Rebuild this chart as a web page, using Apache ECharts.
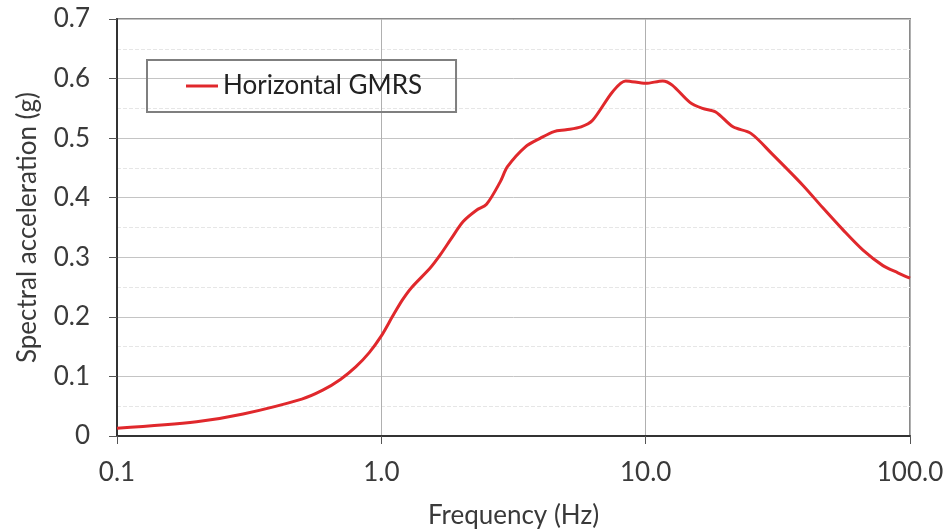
<!DOCTYPE html>
<html>
<head>
<meta charset="utf-8">
<script src="https://cdn.jsdelivr.net/npm/echarts@6/dist/echarts.min.js"></script>
<style>
  html, body { margin: 0; padding: 0; background: #fff; }
  #chart { width: 947px; height: 529px; }
</style>
</head>
<body>
<div id="chart"></div>
<script>
// frequency (Hz) and spectral acceleration (g)
const freq = [0.1, 0.2, 0.3, 0.5, 0.6, 0.7, 0.8, 0.9, 1.0, 1.1, 1.2, 1.3, 1.53, 1.67, 1.83,
  2.04, 2.29, 2.5, 2.82, 3.0, 3.5, 4.0, 4.5, 5.0, 5.7, 6.3, 7.5, 8.4, 10, 11.6, 12.6,
  14.7, 16.4, 18.4, 21.4, 25, 30, 39.3, 46.8, 55.8, 66.4, 79, 90, 100];
const accel = [0.013, 0.024, 0.037, 0.062, 0.077, 0.095, 0.116, 0.140, 0.168, 0.200, 0.228, 0.249, 0.282, 0.304, 0.330,
  0.360, 0.379, 0.389, 0.427, 0.452, 0.485, 0.500, 0.511, 0.514, 0.519, 0.530, 0.578, 0.596, 0.592, 0.596, 0.589,
  0.560, 0.550, 0.544, 0.519, 0.508, 0.474, 0.421, 0.383, 0.346, 0.312, 0.286, 0.274, 0.265];
const seriesName = 'Horizontal GMRS';

const font = 'Lato';
const textColor = '#3a3a3a';

const chart = echarts.init(document.getElementById('chart'));
chart.setOption({
  animation: false,
  backgroundColor: '#fff',
  textStyle: { fontFamily: font },
  grid: {
    left: 117, right: 37, top: 19, bottom: 93,
    outerBoundsMode: 'none',
    show: true, borderColor: '#8a8a8a', borderWidth: 2
  },
  legend: {
    left: 147, top: 60,
    data: [seriesName],
    icon: 'rect',
    itemWidth: 32, itemHeight: 3,
    padding: [13, 34, 13, 39],
    borderColor: '#7f7f7f', borderWidth: 2,
    textStyle: { fontFamily: font, fontSize: 26, color: '#222' }
  },
  xAxis: {
    type: 'log',
    logBase: 10,
    min: 0.1, max: 100,
    name: 'Frequency (Hz)',
    nameLocation: 'middle',
    nameGap: 67,
    nameTextStyle: { fontFamily: font, fontSize: 26, color: textColor },
    axisLine: { onZero: false, lineStyle: { color: '#333', width: 2 } },
    axisTick: { show: true, length: 8, lineStyle: { color: '#555' } },
    axisLabel: {
      margin: 24, fontSize: 26, color: textColor,
      formatter: v => Number(v).toFixed(1)
    },
    splitLine: { show: true, lineStyle: { color: '#b0b0b0', width: 1 } },
    minorTick: { show: false },
    minorSplitLine: { show: false }
  },
  yAxis: {
    type: 'value',
    min: 0, max: 0.7, interval: 0.1,
    name: 'Spectral acceleration (g)',
    nameLocation: 'middle',
    nameGap: 76,
    nameTextStyle: { fontFamily: font, fontSize: 26, color: textColor },
    axisLine: { show: true, lineStyle: { color: '#333', width: 2 } },
    axisTick: { show: true, length: 8, lineStyle: { color: '#555' } },
    axisLabel: {
      margin: 27, fontSize: 26, color: textColor,
      formatter: v => (v === 0 ? '0' : Number(v).toFixed(1))
    },
    splitLine: { show: true, lineStyle: { color: '#c4c4c4', width: 1 } },
    minorTick: { show: false, splitNumber: 2 },
    minorSplitLine: { show: true, lineStyle: { color: '#e6e6e6', type: 'dashed', width: 1 } }
  },
  series: [{
    name: seriesName,
    type: 'line',
    data: freq.map((f, i) => [f, accel[i]]),
    symbol: 'none',
    smooth: 0.3,
    itemStyle: { color: '#e0282c' },
    lineStyle: { color: '#e0282c', width: 3 }
  }]
});
</script>
</body>
</html>
